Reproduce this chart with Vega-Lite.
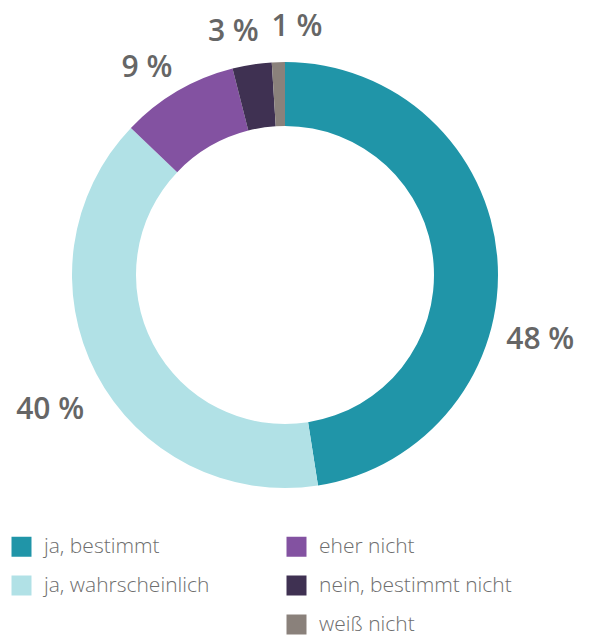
{
  "$schema": "https://vega.github.io/schema/vega-lite/v6.json",
  "autosize": {"type": "none"},
  "padding": {"left": 0, "top": 0, "right": 19, "bottom": 86},
  "width": 570,
  "height": 550,
  "background": "white",
  "data": {
    "values": [
      {"antwort": "ja, bestimmt", "anteil": 48, "label": "48 %", "idx": 1},
      {"antwort": "ja, wahrscheinlich", "anteil": 40, "label": "40 %", "idx": 2},
      {"antwort": "eher nicht", "anteil": 9, "label": "9 %", "idx": 3},
      {"antwort": "nein, bestimmt nicht", "anteil": 3, "label": "3 %", "idx": 4},
      {"antwort": "weiß nicht", "anteil": 1, "label": "1 %", "idx": 5}
    ]
  },
  "encoding": {
    "theta": {"field": "anteil", "type": "quantitative", "stack": true},
    "order": {"field": "idx", "type": "quantitative"}
  },
  "layer": [
    {
      "mark": {"type": "arc", "outerRadius": 213, "innerRadius": 149},
      "encoding": {
        "color": {
          "field": "antwort",
          "type": "nominal",
          "scale": {
            "domain": ["ja, bestimmt", "ja, wahrscheinlich", " ", "eher nicht", "nein, bestimmt nicht", "weiß nicht"],
            "range": ["#2095a8", "#b1e1e6", "transparent", "#8352a1", "#3f3152", "#8a817b"]
          },
          "legend": {
            "title": null,
            "orient": "none",
            "legendX": 11,
            "legendY": 536,
            "columns": 2,
            "columnPadding": 76,
            "rowPadding": 17,
            "padding": 0,
            "symbolType": "square",
            "symbolSize": 400,
            "symbolStrokeWidth": 0,
            "symbolOpacity": 1,
            "labelFont": "Open Sans",
            "labelFontWeight": 300,
            "labelFontSize": 21,
            "labelColor": "#6e6e6e",
            "labelOffset": 12,
            "labelLimit": 300
          }
        }
      }
    },
    {
      "mark": {"type": "text", "radius": 256, "dy": 85, "font": "Open Sans", "fontWeight": 600, "fontSize": 30, "color": "#666666"},
      "encoding": {"text": {"condition": {"test": "datum.idx == 1", "field": "label"}, "value": ""}}
    },
    {
      "mark": {"type": "text", "radius": 256, "dx": -8, "dy": 16, "font": "Open Sans", "fontWeight": 600, "fontSize": 30, "color": "#666666"},
      "encoding": {"text": {"condition": {"test": "datum.idx == 2", "field": "label"}, "value": ""}}
    },
    {
      "mark": {"type": "text", "radius": 256, "dx": -9, "dy": 14, "font": "Open Sans", "fontWeight": 600, "fontSize": 30, "color": "#666666"},
      "encoding": {"text": {"condition": {"test": "datum.idx == 3", "field": "label"}, "value": ""}}
    },
    {
      "mark": {"type": "text", "radius": 256, "dx": -12, "dy": 10, "font": "Open Sans", "fontWeight": 600, "fontSize": 30, "color": "#666666"},
      "encoding": {"text": {"condition": {"test": "datum.idx == 4", "field": "label"}, "value": ""}}
    },
    {
      "mark": {"type": "text", "radius": 256, "dx": 20, "dy": 8, "font": "Open Sans", "fontWeight": 600, "fontSize": 30, "color": "#666666"},
      "encoding": {"text": {"condition": {"test": "datum.idx == 5", "field": "label"}, "value": ""}}
    }
  ]
}
